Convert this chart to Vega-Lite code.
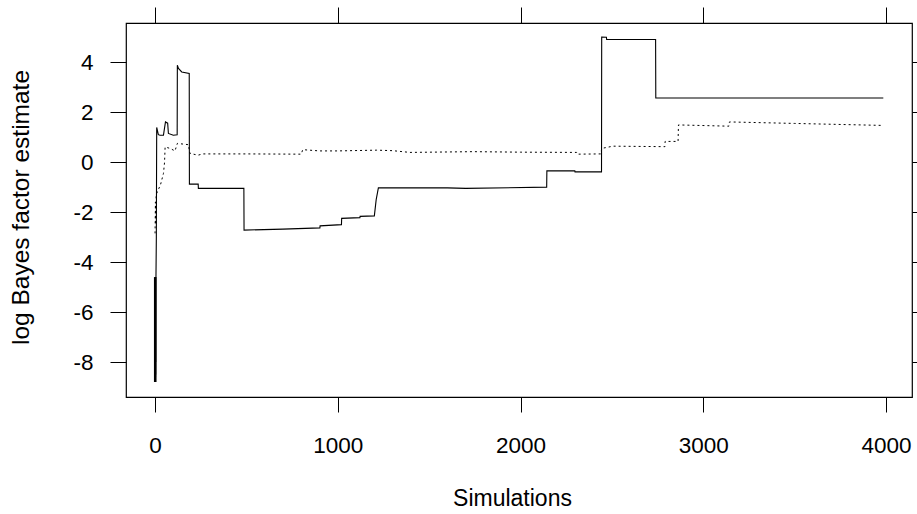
{
  "$schema": "https://vega.github.io/schema/vega-lite/v6.json",
  "autosize": "none",
  "width": 786,
  "height": 374,
  "padding": {"left": 126, "top": 23, "right": 5, "bottom": 117},
  "background": "white",
  "config": {
    "view": {"stroke": "black", "strokeWidth": 1.2},
    "font": "Liberation Sans",
    "axis": {"domain": false, "grid": false, "tickColor": "black", "tickWidth": 1, "labelColor": "black", "titleColor": "black", "labelFont": "Liberation Sans", "titleFont": "Liberation Sans", "labelFontSize": 22.5, "titleFontSize": 23, "titleFontWeight": "normal"}
  },
  "datasets": {
    "solid": [
      {"sim": 0, "lbf": -8.8}, {"sim": 1, "lbf": -4.6}, {"sim": 1.5, "lbf": -8.7}, {"sim": 2, "lbf": -4.8}, {"sim": 2.5, "lbf": -8.6}, {"sim": 3, "lbf": -5.0}, {"sim": 3.5, "lbf": -8.5}, {"sim": 4, "lbf": -4.7}, {"sim": 4.5, "lbf": -8.0}, {"sim": 5, "lbf": -4.6}, {"sim": 7, "lbf": -3.0}, {"sim": 9, "lbf": 1.39},
      {"sim": 18, "lbf": 1.1}, {"sim": 27, "lbf": 1.08}, {"sim": 46, "lbf": 1.08}, {"sim": 57, "lbf": 1.61}, {"sim": 69, "lbf": 1.56}, {"sim": 73, "lbf": 1.15}, {"sim": 100, "lbf": 1.08}, {"sim": 121, "lbf": 1.1},
      {"sim": 122, "lbf": 3.88}, {"sim": 128, "lbf": 3.75}, {"sim": 146, "lbf": 3.61}, {"sim": 187, "lbf": 3.55}, {"sim": 188, "lbf": -0.88}, {"sim": 236, "lbf": -0.88}, {"sim": 237, "lbf": -1.05},
      {"sim": 486, "lbf": -1.05}, {"sim": 487, "lbf": -2.72}, {"sim": 700, "lbf": -2.68}, {"sim": 902, "lbf": -2.63}, {"sim": 903, "lbf": -2.55}, {"sim": 1020, "lbf": -2.5}, {"sim": 1021, "lbf": -2.25},
      {"sim": 1121, "lbf": -2.22}, {"sim": 1122, "lbf": -2.17}, {"sim": 1200, "lbf": -2.15}, {"sim": 1210, "lbf": -1.5}, {"sim": 1222, "lbf": -1.03}, {"sim": 1600, "lbf": -1.03}, {"sim": 1700, "lbf": -1.05},
      {"sim": 2143, "lbf": -1.0}, {"sim": 2144, "lbf": -0.35}, {"sim": 2297, "lbf": -0.35}, {"sim": 2298, "lbf": -0.39}, {"sim": 2443, "lbf": -0.39}, {"sim": 2444, "lbf": 5.01}, {"sim": 2470, "lbf": 5.0},
      {"sim": 2471, "lbf": 4.91}, {"sim": 2739, "lbf": 4.91}, {"sim": 2740, "lbf": 2.57}, {"sim": 3985, "lbf": 2.57}
    ],
    "thick": [
      {"sim": 1, "lbf": -8.8}, {"sim": 1, "lbf": -4.6}
    ],
    "dotted": [
      {"sim": 0, "lbf": -2.85}, {"sim": 2, "lbf": -1.6}, {"sim": 4, "lbf": -2.5}, {"sim": 6, "lbf": -1.3}, {"sim": 15, "lbf": -1.15}, {"sim": 30, "lbf": -0.9}, {"sim": 46, "lbf": -0.45}, {"sim": 52, "lbf": 0.0},
      {"sim": 55, "lbf": 0.61}, {"sim": 82, "lbf": 0.55}, {"sim": 109, "lbf": 0.45}, {"sim": 122, "lbf": 0.75}, {"sim": 182, "lbf": 0.7}, {"sim": 191, "lbf": 0.35}, {"sim": 235, "lbf": 0.28}, {"sim": 262, "lbf": 0.33},
      {"sim": 500, "lbf": 0.33}, {"sim": 800, "lbf": 0.32}, {"sim": 808, "lbf": 0.5}, {"sim": 900, "lbf": 0.45}, {"sim": 1000, "lbf": 0.45}, {"sim": 1213, "lbf": 0.48}, {"sim": 1300, "lbf": 0.46}, {"sim": 1395, "lbf": 0.39},
      {"sim": 1741, "lbf": 0.42}, {"sim": 2000, "lbf": 0.4}, {"sim": 2307, "lbf": 0.39}, {"sim": 2310, "lbf": 0.32}, {"sim": 2440, "lbf": 0.33}, {"sim": 2444, "lbf": 0.55}, {"sim": 2506, "lbf": 0.64}, {"sim": 2790, "lbf": 0.62},
      {"sim": 2791, "lbf": 0.83}, {"sim": 2862, "lbf": 0.83}, {"sim": 2864, "lbf": 1.49}, {"sim": 3140, "lbf": 1.44}, {"sim": 3143, "lbf": 1.61}, {"sim": 3500, "lbf": 1.55}, {"sim": 3985, "lbf": 1.47}
    ]
  },
  "layer": [
    {
      "data": {"name": "solid"},
      "mark": {"type": "line", "color": "black", "strokeWidth": 1.1, "clip": true},
      "encoding": {
        "x": {"field": "sim", "type": "quantitative", "scale": {"domain": [-159, 4142], "nice": false, "zero": false},
              "axis": {"orient": "bottom", "values": [0, 1000, 2000, 3000, 4000], "format": "d", "tickSize": 15, "labelPadding": 22, "title": "Simulations", "titlePadding": 31, "titleX": 386, "labelFlush": false}},
        "y": {"field": "lbf", "type": "quantitative", "scale": {"domain": [-9.4, 5.57], "nice": false, "zero": false},
              "axis": {"orient": "left", "values": [-8, -6, -4, -2, 0, 2, 4], "labelExpr": "toString(datum.value)", "tickSize": 16, "labelPadding": 17, "title": "log Bayes factor estimate", "titleFontSize": 24.5, "titlePadding": 39, "titleY": 184}}
      }
    },
    {
      "data": {"name": "thick"},
      "mark": {"type": "line", "color": "black", "strokeWidth": 2.6, "clip": true},
      "encoding": {
        "x": {"field": "sim", "type": "quantitative", "axis": null},
        "y": {"field": "lbf", "type": "quantitative", "axis": null}
      }
    },
    {
      "data": {"name": "dotted"},
      "mark": {"type": "line", "color": "black", "strokeWidth": 1, "strokeDash": [2, 3], "clip": true},
      "encoding": {
        "x": {"field": "sim", "type": "quantitative", "axis": {"orient": "top", "values": [0, 1000, 2000, 3000, 4000], "tickSize": 16, "labels": false, "title": null}},
        "y": {"field": "lbf", "type": "quantitative", "axis": {"orient": "right", "values": [-8, -6, -4, -2, 0, 2, 4], "tickSize": 16, "labels": false, "title": null}}
      }
    }
  ],
  "resolve": {"axis": {"x": "independent", "y": "independent"}}
}
